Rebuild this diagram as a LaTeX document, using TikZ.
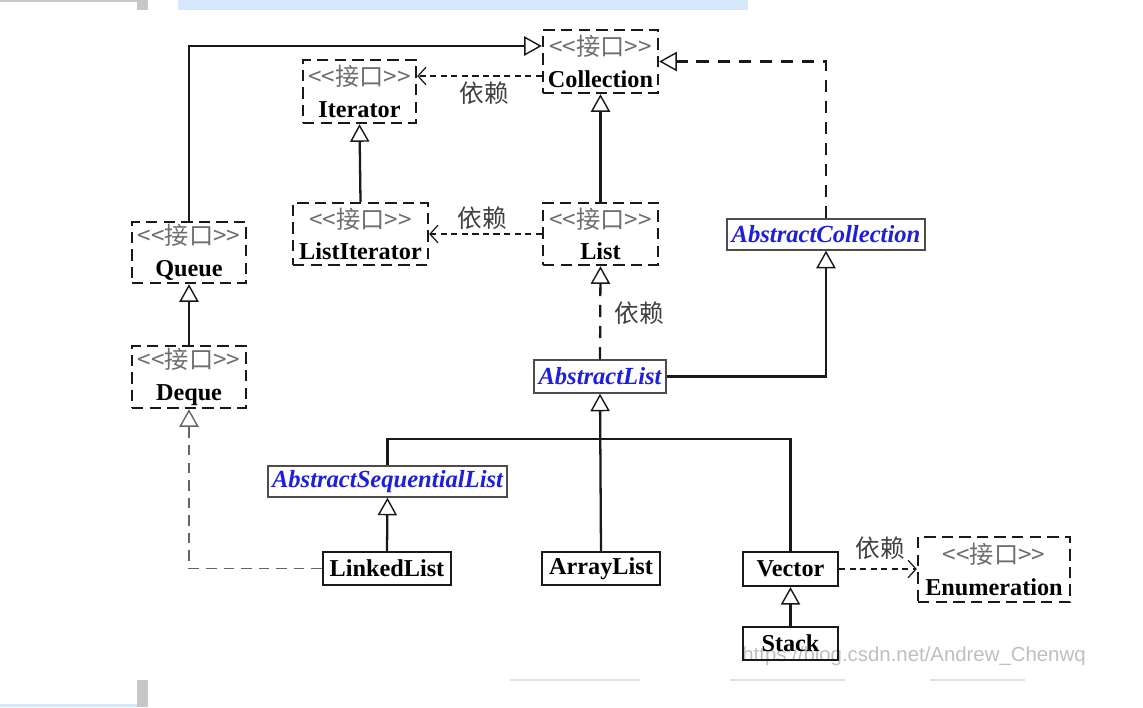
\documentclass[tikz,border=0pt]{standalone}
\usepackage{fontspec}
\setmainfont{Liberation Serif}
\newfontfamily\cjk{Noto Sans CJK SC}
\newfontfamily\wmfont{Liberation Sans}
\usetikzlibrary{arrows.meta,calc}
\definecolor{absblue}{RGB}{30,30,225}
\definecolor{stereo}{RGB}{110,110,110}
\definecolor{linecol}{RGB}{25,25,25}
\definecolor{topbar}{RGB}{214,230,251}
\begin{document}
\begin{tikzpicture}[x=0.02cm,y=-0.02cm,
  iface/.style={draw=linecol, line width=1.4pt, dash pattern=on 6.5pt off 3.5pt, inner sep=0pt, align=center,
     font=\fontsize{13.8}{18}\selectfont},
  cls/.style={draw=linecol, line width=1.2pt, inner sep=0pt, font=\fontsize{13.8}{16}\selectfont\bfseries},
  abs/.style={draw=black!70, line width=0.8pt, inner sep=0pt, text=absblue, font=\fontsize{14}{16}\selectfont\bfseries\itshape},
  tri/.tip={Triangle[open,length=10pt,width=11pt,line width=0.8pt]},
  gen/.style={draw=linecol, line width=1.3pt, -tri},
  real/.style={draw=linecol, line width=1.3pt, dash pattern=on 7pt off 5pt, -tri},
  realg/.style={draw=black!60, line width=0.9pt, dash pattern=on 6pt off 4pt, -tri},
  dep/.style={draw=linecol, line width=0.7pt, dash pattern=on 3.5pt off 2.5pt, -{Straight Barb[length=4.5pt,width=10pt,line width=0.7pt]}},
  deplbl/.style={text=black!75, font=\cjk\fontsize{14}{16}\selectfont, inner sep=0pt}
]
\useasboundingbox[fill=white] (0,0) rectangle (1143,707);
% screenshot background bits
\fill[topbar] (178,0) rectangle (748,10);
\fill[black!22] (0,0) rectangle (137,2);
\fill[black!22] (137,0) rectangle (148,10);
\fill[black!22] (137,680) rectangle (148,707);
\fill[topbar] (0,704) rectangle (137,707);
\draw[black!12, line width=0.8pt] (510,680) -- (640,680) (730,680) -- (845,680) (930,680) -- (1025,680);

% interfaces
\newcommand{\stt}{{\cjk\color{stereo}<<接口>>}}
\node[iface, minimum width=2.30cm, minimum height=1.26cm] (collection) at (600.5,61.5) {\stt\\\textbf{Collection}};
\node[iface, minimum width=2.26cm, minimum height=1.26cm] (iterator) at (359.5,91.5) {\stt\\\textbf{Iterator}};
\node[iface, minimum width=2.70cm, minimum height=1.24cm] (listiterator) at (360.5,234) {\stt\\\textbf{ListIterator}};
\node[iface, minimum width=2.30cm, minimum height=1.24cm] (list) at (600.5,234) {\stt\\\textbf{List}};
\node[iface, minimum width=2.28cm, minimum height=1.22cm] (queue) at (189,252.5) {\stt\\\textbf{Queue}};
\node[iface, minimum width=2.28cm, minimum height=1.24cm] (deque) at (189,377) {\stt\\\textbf{Deque}};
\node[iface, minimum width=3.04cm, minimum height=1.30cm] (enumeration) at (994,569.5) {\stt\\\textbf{Enumeration}};

% abstract classes
\node[abs, minimum width=3.96cm, minimum height=0.62cm] (abscoll) at (826,234.5) {AbstractCollection};
\node[abs, minimum width=2.64cm, minimum height=0.66cm] (abslist) at (600,376.5) {AbstractList};
\node[abs, minimum width=4.78cm, minimum height=0.62cm] (absseq) at (387.5,481.5) {AbstractSequentialList};

% concrete classes
\node[cls, minimum width=2.56cm, minimum height=0.66cm] (linkedlist) at (387,568.5) {LinkedList};
\node[cls, minimum width=2.36cm, minimum height=0.66cm] (arraylist) at (601,568.5) {ArrayList};
\node[cls, minimum width=1.90cm, minimum height=0.68cm] (vector) at (790.5,569) {Vector};

% watermark (behind Stack text, as in the screenshot)
\node[text=black!25, font=\wmfont\fontsize{11.6}{14}\selectfont, anchor=west, inner sep=0pt] (wm) at (742,656) {https://blog.csdn.net/Andrew\_Chenwq};
\node[cls, minimum width=1.90cm, minimum height=0.66cm] (stack) at (790.5,643.5) {Stack};

% connectors
\coordinate (cqin) at ([yshift=0.31cm]collection.west);
\draw[gen] (queue.north) |- (cqin);
\coordinate (citer) at ([yshift=-0.29cm]collection.west);
\draw[dep] (citer) -- (iterator.east |- citer);
\node[deplbl] (l1) at (484,93) {依赖};
\draw[gen] (listiterator.north) -- (iterator.south);
\draw[gen] (list.north) -- (collection.south);
\draw[dep] (list.west) -- (listiterator.east);
\node[deplbl] (l2) at (482,218) {依赖};
\draw[real] (abscoll.north) |- (collection.east);
\draw[real] (abslist.north) -- (list.south);
\node[deplbl] (l3) at (639,313) {依赖};
\draw[gen] (abslist.east) -| (abscoll.south);
\draw[gen] (deque.north) -- (queue.south);
\draw[realg] (linkedlist.west) -| (deque.south);
\coordinate (j) at (600,439);
\draw[gen] (arraylist.north) -- (abslist.south);
\draw[draw=linecol, line width=1.3pt] (absseq.north) |- (j) -| (vector.north);
\draw[gen] (linkedlist.north) -- (absseq.south);
\draw[gen] (stack.north) -- (vector.south);
\draw[dep] (vector.east) -- (vector.east -| enumeration.west);
\node[deplbl] (l4) at (880,548) {依赖};
\end{tikzpicture}
\end{document}
